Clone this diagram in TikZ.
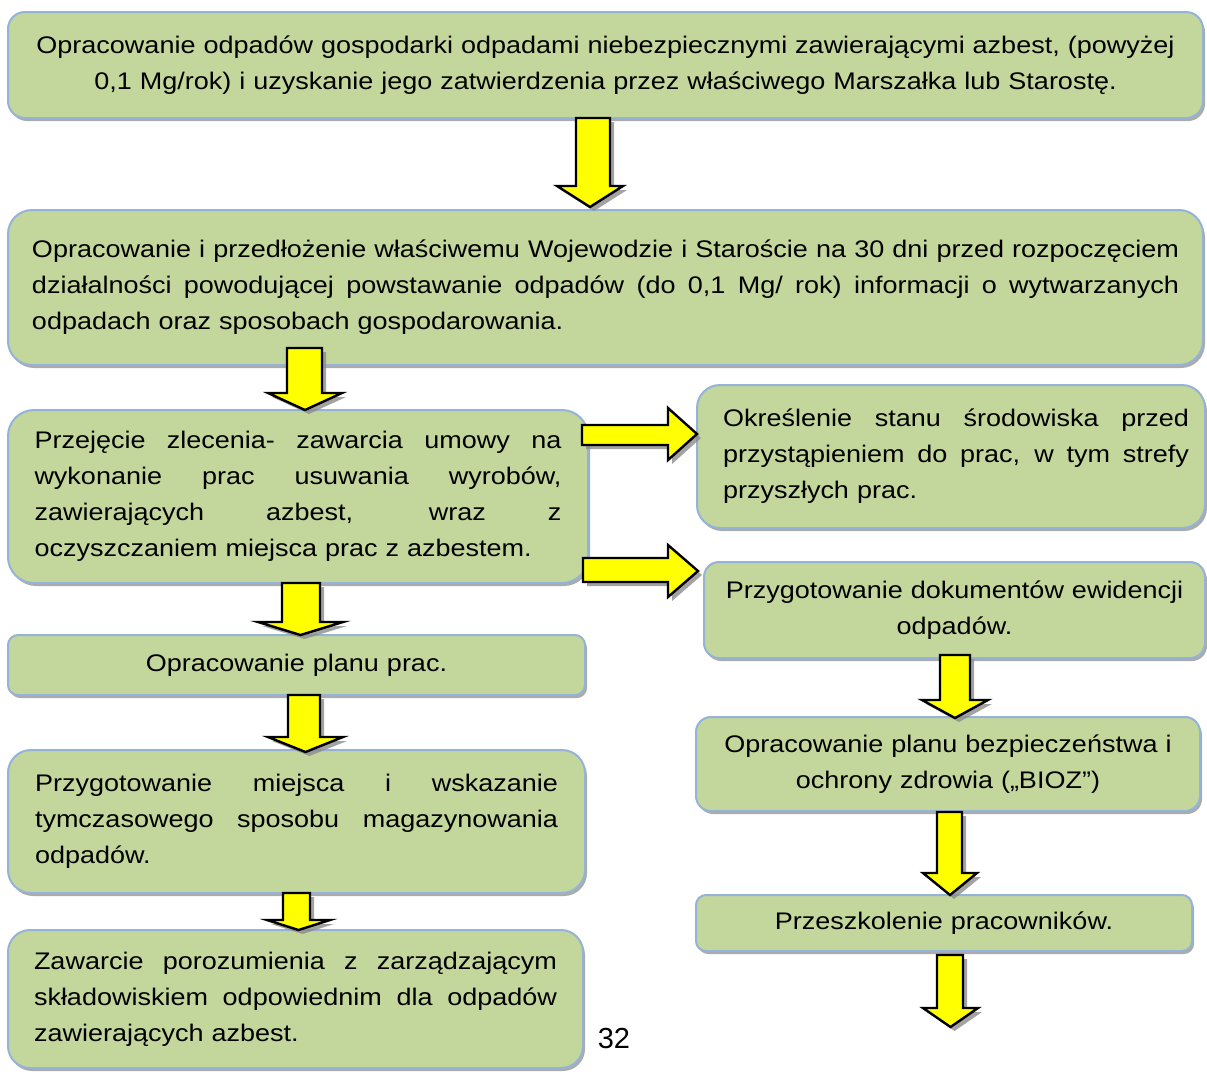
\documentclass[tikz,border=0pt]{standalone}
\usepackage{fontspec}
\setmainfont{Liberation Sans}[FakeStretch=1.125]
\newfontfamily\pagefont{Liberation Sans}
\usetikzlibrary{shadows}
\definecolor{boxfill}{HTML}{C3D69B}
\definecolor{boxline}{HTML}{95B3D7}
\definecolor{arrfill}{HTML}{FFFF00}
\newcommand\boxfont{\fontsize{12}{18}\selectfont}
\newcommand\jl[2]{\leavevmode\hbox to #1{\spaceskip=0.31em plus 1fil\relax\xspaceskip=0.31em plus 1fil\relax #2}\\}
\tikzset{
  box/.style={draw=boxline, line width=1pt, fill=boxfill, inner sep=0pt,
    font=\boxfont,
    drop shadow={shadow xshift=1pt, shadow yshift=-1.5pt, fill=black!55, opacity=0.6}},
  jbox/.style={box, align=left},
  cbox/.style={box, align=center},
  arrbody/.style={draw=black, line width=1.2pt, fill=arrfill, line join=miter},
  arrshadow/.style={fill=black!45, opacity=0.8},
  plain/.style={font=\pagefont\fontsize{14.5}{16}\selectfont, inner sep=0pt}
}
\newcommand\DownBlock[7]{%
  \path[arrshadow, shift={(2pt,-2pt)}] (#1,#3) -- (#2,#3) -- (#2,#4) -- (#6,#4) -- ({(#5+#6)/2},#7) -- (#5,#4) -- (#1,#4) -- cycle;
  \path[arrbody] (#1,#3) -- (#2,#3) -- (#2,#4) -- (#6,#4) -- ({(#5+#6)/2},#7) -- (#5,#4) -- (#1,#4) -- cycle;}
\newcommand\RightBlock[7]{%
  \path[arrshadow, shift={(2pt,-2pt)}] (#1,#3) -- (#2,#3) -- (#2,#5) -- (#7,{(#5+#6)/2}) -- (#2,#6) -- (#2,#4) -- (#1,#4) -- cycle;
  \path[arrbody] (#1,#3) -- (#2,#3) -- (#2,#5) -- (#7,{(#5+#6)/2}) -- (#2,#6) -- (#2,#4) -- (#1,#4) -- cycle;}
\begin{document}
\begin{tikzpicture}[x=0.5pt, y=-0.5pt]
\useasboundingbox (0,0) rectangle (1207,1073);

% boxes
\node[cbox, rounded corners=8.5pt, minimum width=597.5pt, minimum height=53pt, text width=590pt] (b1) at (605.5,65)
  {Opracowanie odpadów gospodarki odpadami niebezpiecznymi zawierającymi azbest, (powyżej\\0,1 Mg/rok) i uzyskanie jego zatwierdzenia przez właściwego Marszałka lub Starostę.};
\node[jbox, rounded corners=12pt, minimum width=597.5pt, minimum height=77.5pt, text width=573.5pt] (b2) at (605.5,287.5)
  {\jl{573.5pt}{Opracowanie i przedłożenie właściwemu Wojewodzie i Staroście na 30 dni przed rozpoczęciem}
   \jl{573.5pt}{działalności powodującej powstawanie odpadów (do 0,1 Mg/ rok) informacji o wytwarzanych}
   odpadach oraz sposobach gospodarowania.};
\node[jbox, rounded corners=13pt, minimum width=290pt, minimum height=86.5pt, text width=263.5pt] (b3) at (298,496.5)
  {\jl{263.5pt}{Przejęcie zlecenia- zawarcia umowy na}
   \jl{263.5pt}{wykonanie prac usuwania wyrobów,}
   \jl{263.5pt}{zawierających azbest, wraz z}
   oczyszczaniem miejsca prac z azbestem.};
\node[jbox, rounded corners=11.5pt, minimum width=254pt, minimum height=71.5pt, text width=238pt] (b4) at (951,456.5)
  {\jl{238pt}{\hspace{5pt}Określenie stanu środowiska przed}
   \jl{238pt}{\hspace{5pt}przystąpieniem do prac, w tym strefy}
   \hspace{5pt}przyszłych prac.};
\node[cbox, rounded corners=7.5pt, minimum width=250.5pt, minimum height=48pt, text width=240pt] (b5) at (954.5,610)
  {Przygotowanie dokumentów ewidencji\\odpadów.};
\node[cbox, rounded corners=7.5pt, minimum width=252pt, minimum height=47pt, text width=240pt] (b6) at (948,764)
  {Opracowanie planu bezpieczeństwa i\\ochrony zdrowia („BIOZ”)};
\node[cbox, rounded corners=5pt, minimum width=248pt, minimum height=28pt, text width=240pt] (b7) at (944,923)
  {Przeszkolenie pracowników.};
\node[cbox, rounded corners=5pt, minimum width=288.5pt, minimum height=30pt, text width=280pt] (b8) at (296.5,665)
  {Opracowanie planu prac.};
\node[jbox, rounded corners=11.5pt, minimum width=288.5pt, minimum height=71.5pt, text width=261.5pt] (b9) at (296.5,821.5)
  {\jl{261.5pt}{Przygotowanie miejsca i wskazanie}
   \jl{261.5pt}{tymczasowego sposobu magazynowania}
   odpadów.};
\node[jbox, rounded corners=11pt, minimum width=287.5pt, minimum height=69pt, text width=261.5pt] (b10) at (295.5,999)
  {\jl{261.5pt}{Zawarcie porozumienia z zarządzającym}
   \jl{261.5pt}{składowiskiem odpowiednim dla odpadów}
   zawierających azbest.};

\node[plain] (pagenum) at (614,1039) {32};

% block arrows
\DownBlock{576}{610}{118}{186}{557}{623}{207}
\DownBlock{287}{322}{348}{393}{268}{342}{410}
\DownBlock{282}{320}{583}{622}{258}{343}{635}
\DownBlock{288}{320}{695}{737}{268}{343}{752}
\DownBlock{283}{310}{893}{920}{267}{330}{930}
\DownBlock{940}{970}{655}{700}{922}{988}{718}
\DownBlock{937}{962}{812}{873}{923}{977}{895}
\DownBlock{937}{963}{955}{1008}{923}{978}{1027}
\RightBlock{582}{668}{425}{445}{408}{460}{697}
\RightBlock{583}{668}{558}{582}{545}{597}{698}
\end{tikzpicture}
\end{document}
